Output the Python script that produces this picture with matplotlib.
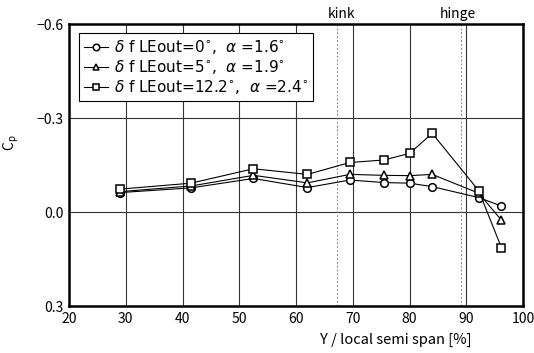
import numpy as np
import matplotlib.pyplot as plt

plt.rcParams['font.family'] = ['Noto Sans CJK JP', 'DejaVu Sans']
plt.rcParams['mathtext.fontset'] = 'dejavusans'
plt.rcParams['axes.unicode_minus'] = True

# spanwise stations [%]
y_span = [29.0, 41.5, 52.5, 62.0, 69.5, 75.5, 80.0, 84.0, 92.2, 96.2]
cp_0 = [-0.062, -0.077, -0.107, -0.078, -0.102, -0.094, -0.092, -0.081, -0.046, -0.019]
cp_5 = [-0.065, -0.083, -0.117, -0.093, -0.120, -0.117, -0.116, -0.120, -0.060, 0.026]
cp_12 = [-0.073, -0.092, -0.138, -0.120, -0.158, -0.166, -0.187, -0.251, -0.068, 0.114]

labels = [r'$\delta$ f LEout=0$^{\circ}$,  $\alpha$ =1.6$^{\circ}$',
          r'$\delta$ f LEout=5$^{\circ}$,  $\alpha$ =1.9$^{\circ}$',
          r'$\delta$ f LEout=12.2$^{\circ}$,  $\alpha$ =2.4$^{\circ}$']
markers = ['o', '^', 's']
kink, hinge = 67.2, 89.0

fig = plt.figure(figsize=(5.34, 3.53), dpi=100)
ax = fig.add_axes([69/534, 47/353, 454/534, 282/353])

for cp, m, lab in zip([cp_0, cp_5, cp_12], markers, labels):
    ax.plot(y_span, cp, color='black', lw=0.8, marker=m, ms=5.5,
            mfc='white', mec='black', mew=1.1, label=lab, zorder=3)

for xv in [kink, hinge]:
    ax.axvline(xv, color='#8080c0', lw=0.7, ls=(0, (2, 2)), zorder=1)
ax.text(kink + 0.8, -0.61, 'kink', ha='center', va='bottom', fontsize=10)
ax.text(hinge - 0.5, -0.61, 'hinge', ha='center', va='bottom', fontsize=10)

ax.set_xlim(20, 100)
ax.set_ylim(0.3, -0.6)
ax.set_xticks(np.arange(20, 101, 10))
ax.set_yticks([-0.6, -0.3, 0.0, 0.3])
ax.set_yticklabels(['\u22120.6', '\u22120.3', '0.0', '0.3'])
ax.grid(True, color='#333333', lw=0.8, zorder=0)
ax.set_axisbelow(True)
ax.tick_params(length=0, labelsize=10, pad=4)
for s in ax.spines.values():
    s.set_linewidth(1.8)

ax.set_xlabel('Y / local semi span [%]', fontsize=10.5)
ax.xaxis.set_label_coords(0.72, -0.095)
ax.set_ylabel(r'C$_\mathregular{p}$', fontsize=10)
ax.yaxis.set_label_coords(-0.105, 0.58)

leg = ax.legend(loc='upper left', bbox_to_anchor=(0.022, 0.967),
                prop={'family': 'DejaVu Sans', 'size': 11},
                frameon=True, fancybox=False, edgecolor='black', framealpha=1,
                handlelength=1.6, handletextpad=0.4, borderpad=0.3, labelspacing=0.15,
                borderaxespad=0, markerscale=0.85)
leg.get_frame().set_linewidth(0.8)

fig.savefig('out.png', dpi=100)
